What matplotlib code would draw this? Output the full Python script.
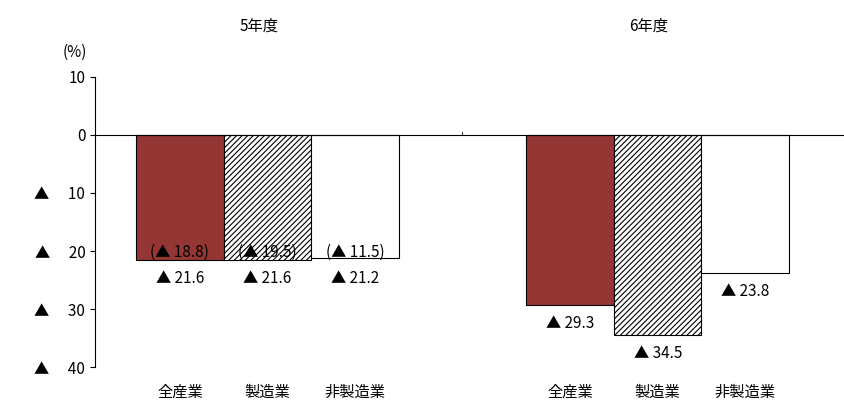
import matplotlib
matplotlib.use("Agg")
import matplotlib.pyplot as plt

plt.rcParams['font.family'] = ['Noto Sans CJK JP', 'DejaVu Sans']
plt.rcParams['hatch.linewidth'] = 0.8

categories = ["全産業", "製造業", "非製造業"]
years = ["5年度", "6年度"]
values_r5 = [-21.6, -21.6, -21.2]
values_r6 = [-29.3, -34.5, -23.8]
prev_r5 = [-18.8, -19.5, -11.5]
yticks = [10, 0, -10, -20, -30, -40]
ytick_labels = ["10", "0", "▲　 10", "▲　 20", "▲　 30", "▲　 40"]

colors = ["#943634", "white", "white"]
hatches = [None, "//////", None]

def fmt(v):
    return f"▲ {abs(v):.1f}"

fig = plt.figure(figsize=(8.44, 4.01), dpi=100)
ax = fig.add_axes([95 / 844, 34 / 401, 750 / 844, 290 / 401])

x1 = [0, 1, 2]
x2 = [4.46, 5.46, 6.46]
for xs, vals in ((x1, values_r5), (x2, values_r6)):
    for x, v, c, h in zip(xs, vals, colors, hatches):
        ax.bar(x, v, width=1.0, color=c, edgecolor="black", linewidth=0.8, hatch=h)

fs = 11
for x, v, p in zip(x1, values_r5, prev_r5):
    ax.text(x, -20.3, f"({fmt(p)})", ha="center", va="center", fontsize=fs)
    ax.text(x, -24.7, fmt(v), ha="center", va="center", fontsize=fs)
for x, v in zip(x2, values_r6):
    ax.text(x, v - 3.2, fmt(v), ha="center", va="center", fontsize=fs)

for xs in (x1, x2):
    for x, c in zip(xs, categories):
        ax.text(x, -44.3, c, ha="center", va="center", fontsize=fs, clip_on=False)
for xs, y in zip((x1, x2), years):
    ax.text(xs[1] - 0.1, 18.8, y, ha="center", va="center", fontsize=fs, clip_on=False)

ax.axhline(0, color="black", linewidth=0.8)
ax.plot([3.22, 3.22], [0, 0.6], color="black", linewidth=0.6)
ax.set_xlim(-0.97, 7.6)
ax.set_ylim(-40, 10)
ax.set_yticks(yticks)
ax.set_yticklabels(ytick_labels, fontsize=fs)
ax.set_xticks([])
for s in ("top", "right", "bottom"):
    ax.spines[s].set_visible(False)
ax.spines["left"].set_linewidth(0.8)
fig.text(75 / 844, 1 - 52 / 401, "(%)", ha="center", va="center", fontsize=fs)

fig.savefig("out.png", dpi=100)
